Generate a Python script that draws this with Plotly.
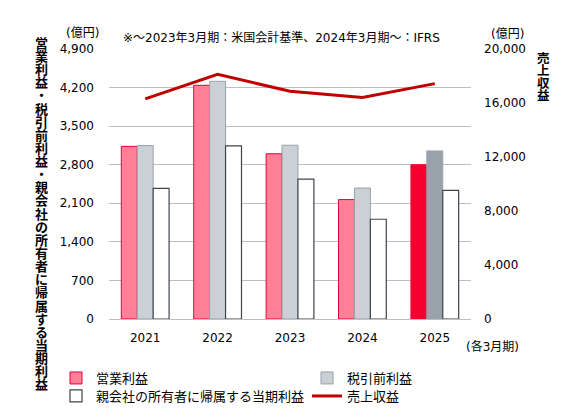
import plotly.graph_objects as go

# データ（億円）
nendo = ["2021", "2022", "2023", "2024", "2025"]
eigyo_rieki = [3133, 4241, 2999, 2167, 2799]
zeibikimae_rieki = [3148, 4314, 3153, 2377, 3050]
toki_rieki = [2371, 3141, 2539, 1810, 2335]
uriage = [16302, 18125, 16868, 16402, 17433]

left_ticks = [0, 700, 1400, 2100, 2800, 3500, 4200, 4900]
right_ticks = [0, 4000, 8000, 12000, 16000, 20000]

# 色
pink, pink_line = "#FF8097", "#E8003A"
red = "#F5002F"
grey, grey_line = "#CBD0D4", "#9AA1A9"
grey_dark = "#99A2AB"
dark = "#3C444C"
line_red = "#C00000"

FONT = "DejaVu Sans, Noto Sans CJK JP, sans-serif"
W, H = 565, 417
L, R, T, B = 109, 94, 49, 98


def px2paper(px, py):
    return (px - L) / (W - L - R), (H - B - py) / (H - T - B)


n = len(nendo)
fig = go.Figure()

fig.add_trace(go.Bar(
    x=nendo, y=eigyo_rieki, name="営業利益", legend="legend",
    marker=dict(color=[pink] * (n - 1) + [red],
                line=dict(color=[pink_line] * (n - 1) + [red], width=1)),
))
fig.add_trace(go.Bar(
    x=nendo, y=zeibikimae_rieki, name="税引前利益", legend="legend2",
    marker=dict(color=[grey] * (n - 1) + [grey_dark],
                line=dict(color=[grey_line] * (n - 1) + [grey_dark], width=1)),
))
fig.add_trace(go.Bar(
    x=nendo, y=toki_rieki, name="親会社の所有者に帰属する当期利益", legend="legend3",
    marker=dict(color="white", line=dict(color=dark, width=1.2)),
))
fig.add_trace(go.Scatter(
    x=nendo, y=uriage, name="売上収益", yaxis="y2", legend="legend4",
    mode="lines", line=dict(color=line_red, width=3),
))

annotations = []


def add_text(txt, px, py, size=12):
    x, y = px2paper(px, py)
    annotations.append(dict(text=txt, x=x, y=y, xref="paper", yref="paper",
                            xanchor="center", yanchor="middle", showarrow=False,
                            font=dict(size=size, color="black")))


# 縦書きのタイトル（左）
title_left = "営業利益・税引前利益・親会社の所有者に帰属する当期利益"
for i, ch in enumerate(title_left):
    add_text("<b>" + ch + "</b>", 41.5, 43.3 + i * 13.14, size=13)

# 縦書きのタイトル（右）
for i, ch in enumerate("売上収益"):
    add_text("<b>" + ch + "</b>", 543, 58 + i * 12.6, size=12.5)

add_text("(億円)", 82.5, 32.5)
add_text("(億円)", 507.5, 33.5)
add_text("(各3月期)", 492.5, 346)
add_text("※～2023年3月期：米国会計基準、2024年3月期～：IFRS", 281, 37.5)

# 凡例の位置（2列×2行）
lgx1, lgy1 = px2paper(56, 363)
lgx2, lgy2 = px2paper(307, 381)
legend_style = dict(xanchor="left", yanchor="top", orientation="v",
                    font=dict(size=13), bgcolor="rgba(0,0,0,0)")

fig.update_layout(
    width=W, height=H,
    margin=dict(l=L, r=R, t=T, b=B, autoexpand=False),
    paper_bgcolor="white", plot_bgcolor="white",
    font=dict(family=FONT, size=12, color="black"),
    barmode="group", bargap=0.34, bargroupgap=0,
    xaxis=dict(showgrid=False, showline=False, ticks="", ticklabelstandoff=10,
               tickfont=dict(size=12)),
    yaxis=dict(range=[0, 4900], tickvals=left_ticks, tickformat=",",
               showgrid=True, gridcolor="#BFBFBF", gridwidth=1,
               zeroline=True, zerolinecolor="#BFBFBF", zerolinewidth=1,
               showline=False, ticks="", ticklabelstandoff=14, tickfont=dict(size=12)),
    yaxis2=dict(range=[0, 20000], tickvals=right_ticks, tickformat=",",
                overlaying="y", side="right", showgrid=False, zeroline=False,
                showline=False, ticks="", ticklabelstandoff=12, tickfont=dict(size=12)),
    legend=dict(x=lgx1, y=lgy1, **legend_style),
    legend2=dict(x=lgx2, y=lgy1, **legend_style),
    legend3=dict(x=lgx1, y=lgy2, **legend_style),
    legend4=dict(x=lgx2, y=lgy2, **legend_style),
    annotations=annotations,
    showlegend=True,
)

fig.write_html("out.html", config={"displayModeBar": False},
               post_script="document.body.style.margin='0';document.body.style.overflow='hidden';")
